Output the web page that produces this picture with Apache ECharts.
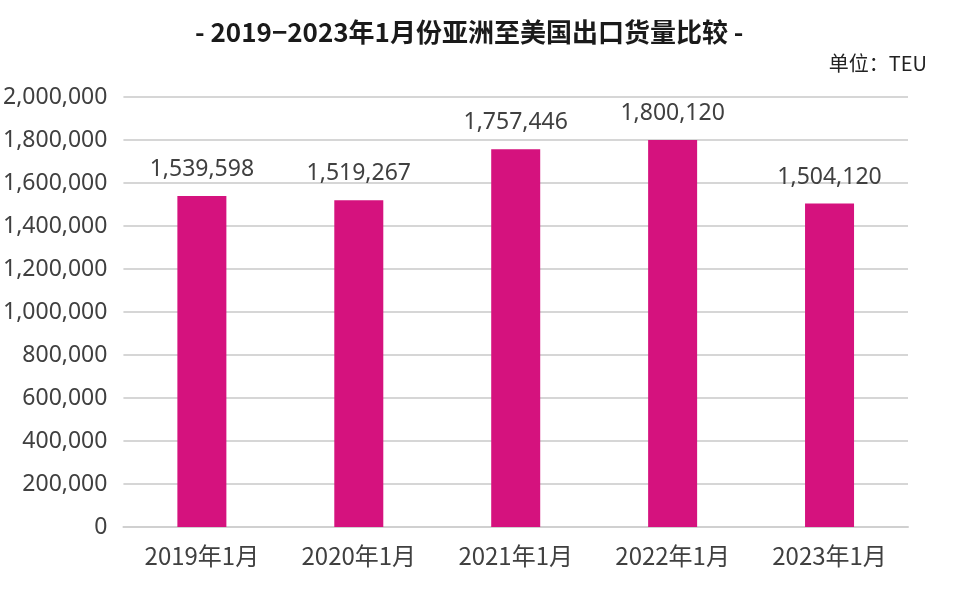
<!DOCTYPE html>
<html><head><meta charset="utf-8">
<script src="https://cdn.jsdelivr.net/npm/echarts@6/dist/echarts.min.js"></script>
<style>html,body{margin:0;padding:0;background:#fff}#c{width:962px;height:616px}</style>
</head><body><div id="c"></div>
<script>
const categories = ['2019年1月','2020年1月','2021年1月','2022年1月','2023年1月'];
const values = [1539598, 1519267, 1757446, 1800120, 1504120];
const titleText = '- 2019−2023年1月份亚洲至美国出口货量比较 -';
const unitText = '单位：TEU';
const chart = echarts.init(document.getElementById('c'));
const fmt = v => String(v).replace(/\B(?=(\d{3})+(?!\d))/g, ',');
chart.setOption({
  animation:false,
  title:[{text:titleText,left:190,top:14,textStyle:{fontFamily:'Noto Sans CJK SC',fontWeight:'bold',fontSize:26,color:'#1a1a1a'}},
         {text:unitText,right:30,top:48,textStyle:{fontFamily:'Noto Sans CJK SC',fontWeight:'normal',fontSize:20,color:'#222'}}],
  grid:{left:122,right:54,top:97,bottom:89},
  xAxis:{type:'category',data:categories,
    axisLine:{lineStyle:{color:'#d0d0d0',width:2}},axisTick:{show:false},
    axisLabel:{fontFamily:'Noto Sans CJK SC',fontSize:24,color:'#404040',margin:17}},
  yAxis:{type:'value',min:0,max:2000000,interval:200000,
    axisLine:{show:false},axisTick:{show:false},
    splitLine:{lineStyle:{color:'#d6d6d6',width:2}},
    axisLabel:{fontFamily:'Noto Sans',fontSize:23,color:'#404040',margin:16,formatter:fmt}},
  series:[{type:'bar',data:values,barWidth:49,itemStyle:{color:'#d5127e'},
    label:{show:true,position:'top',distance:15,fontFamily:'Noto Sans',fontSize:23,color:'#404040',formatter:p=>fmt(p.value)}}]
});
</script></body></html>
